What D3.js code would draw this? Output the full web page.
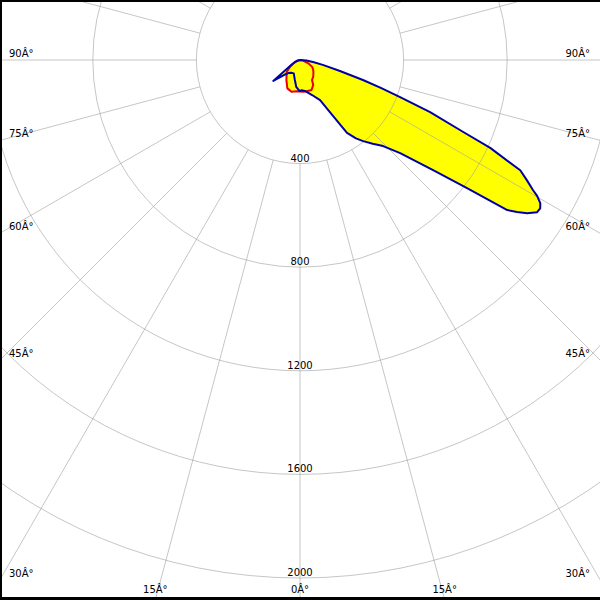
<!DOCTYPE html>
<html><head><meta charset="utf-8">
<script src="https://cdn.jsdelivr.net/npm/d3@7"></script>
<style>body{margin:0;background:#fff}svg{display:block}</style>
</head><body>
<script>
// ---- data ----
const gridValues = [400, 800, 1200, 1600, 2000];
const gridLabels = ["400", "800", "1200", "1600", "2000"];
const spokeAngles = [0, 15, 30, 45, 60, 75, 90, 105, 120, 135, 150, 165];
const angleTicks = [0, 15, 30, 45, 60, 75, 90];
const angleTickLabels = ["0\u00C2\u00B0", "15\u00C2\u00B0", "30\u00C2\u00B0", "45\u00C2\u00B0", "60\u00C2\u00B0", "75\u00C2\u00B0", "90\u00C2\u00B0"];

// C0-C180 plane (blue): signed gamma angle (deg) and intensity (cd)
const blueAngles = [-90, -75, -62, -52, -47, -42, -35, -25, -15, -8, -3, 0, 3, 9, 19, 26.6, 30.7, 32.8, 35.5, 37.9, 41, 44, 47.1, 50.4, 52.5, 54.1, 55, 56, 57.3, 58.3, 59.2, 60.2, 60.8, 62.1, 63.4, 65.2, 66.2, 68.2, 69.7, 71, 72.4, 74.6, 78, 81.3, 85, 90];
const blueValues = [0, 12, 35, 131, 85, 68, 60, 57, 78, 105, 115, 120, 117, 121, 143, 173, 254, 335, 372, 397, 428, 462, 528, 667, 813, 988, 1023, 1058, 1088, 1090, 1080, 1055, 1031, 991, 951, 809, 689, 541, 412, 330, 255, 160, 90, 51, 25, 0];

// C90-C270 plane (red)
const redAngles = [-90, -70, -56, -48, -34, -24, -15, -6, 0, 6, 12, 21, 28, 31, 38.5, 46, 53, 60, 68, 80, 90];
const redValues = [0, 20, 46, 69, 94, 120, 127, 121, 122, 123, 123, 124, 109, 90, 82, 72, 64, 55, 35, 12, 0];

// ---- layout ----
const W = 600, H = 600, cx = 300, cy = 60;
const r = d3.scaleLinear().domain([0, 2000]).range([0, 518]);
const rad = d => d * Math.PI / 180;
const px = (a, v) => r(v) * Math.sin(rad(a));
const py = (a, v) => r(v) * Math.cos(rad(a));

const svg = d3.select("body").append("svg").attr("width", W).attr("height", H)
  .style("font-family", "'DejaVu Sans', sans-serif").style("font-size", "10px");
svg.append("rect").attr("width", W).attr("height", H).attr("fill", "#fff");

const g = svg.append("g").attr("transform", `translate(${cx},${cy})`);

const line = d3.lineRadial()
  .angle(d => Math.PI - rad(d[0]))
  .radius(d => r(d[1]))
  .curve(d3.curveLinearClosed);

const blue = blueAngles.map((a, i) => [a, blueValues[i]]);
const red = redAngles.map((a, i) => [a, redValues[i]]);

// fills
g.append("path").attr("d", line(blue)).attr("fill", "#ffff00");
g.append("path").attr("d", line(red)).attr("fill", "#ffff00");

// grid
const grid = g.append("g").attr("stroke", "#a0a0a0").attr("stroke-opacity", 0.6).attr("fill", "none");
grid.selectAll("circle").data(gridValues.concat([2400])).join("circle")
  .attr("r", d => r(d)).attr("stroke-width", 1);
const spokes = [];
spokeAngles.forEach(a => { spokes.push(a); if (a !== 0) spokes.push(-a); });
grid.selectAll("line").data(spokes).join("line")
  .attr("x1", a => px(a, 400)).attr("y1", a => py(a, 400))
  .attr("x2", a => px(a, 3200)).attr("y2", a => py(a, 3200));

// radial value labels
g.selectAll("text.rv").data(gridValues).join("text").attr("class", "rv")
  .attr("x", 0).attr("y", d => r(d) - 2).attr("text-anchor", "middle")
  .attr("fill", "#000").text((d, i) => gridLabels[i]);

// angle labels at the border
angleTicks.forEach((a, i) => {
  const sides = a === 0 ? [1] : [-1, 1];
  sides.forEach(s => {
    const ang = s * a;
    const dx = Math.sin(rad(ang)), dy = Math.cos(rad(ang));
    const tBottom = dy > 1e-6 ? (H - cy) / dy : Infinity;
    const tSide = Math.abs(dx) > 1e-6 ? (dx > 0 ? (W - cx) / dx : cx / -dx) : Infinity;
    let x, y, anchor;
    if (tBottom < tSide) {
      x = cx + dx * tBottom; y = H - 7; anchor = "middle";
    } else {
      y = cy + dy * tSide - 3;
      if (dx < 0) { x = 9; anchor = "start"; } else { x = 590; anchor = "end"; }
    }
    svg.append("text").attr("x", x).attr("y", y).attr("text-anchor", anchor)
      .attr("fill", "#000").text(angleTickLabels[i]);
  });
});

// curve outlines
g.append("path").attr("d", line(red)).attr("fill", "none")
  .attr("stroke", "#e80000").attr("stroke-width", 2).attr("stroke-linejoin", "round");
g.append("path").attr("d", line(blue)).attr("fill", "none")
  .attr("stroke", "#0000a8").attr("stroke-width", 2).attr("stroke-linejoin", "round");

// frame
svg.append("rect").attr("x", 0).attr("y", 0).attr("width", W).attr("height", 2).attr("fill", "#000");
svg.append("rect").attr("x", 0).attr("y", 0).attr("width", 2).attr("height", H).attr("fill", "#000");
svg.append("rect").attr("x", 0).attr("y", H - 3).attr("width", W).attr("height", 3).attr("fill", "#000");
</script>
</body></html>
